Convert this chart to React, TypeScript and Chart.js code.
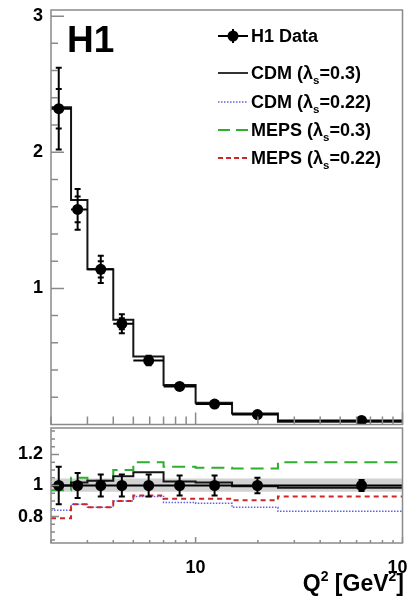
import { useEffect, useRef } from 'react';
import { Chart, registerables } from 'chart.js';
Chart.register(...registerables);

const FONT = '"Liberation Sans", Arial, Helvetica, sans-serif';

// ---- data ----
const binEdges = [2, 2.5, 3, 4, 5, 7, 10, 15, 25, 100];
const dataQ2 = [2.18, 2.69, 3.48, 4.4, 5.93, 8.37, 12.35, 19.9, 63.4];
const dataXsec = [2.32, 1.58, 1.14, 0.74, 0.47, 0.28, 0.15, 0.073, 0.03];
const statErr = [0.145, 0.095, 0.06, 0.04, 0.02, 0.015, 0.01, 0.006, 0.004];
const totErr = [0.3, 0.15, 0.1, 0.07, 0.035, 0.022, 0.013, 0.008, 0.005];
const cdm03 = [2.33, 1.65, 1.14, 0.77, 0.5, 0.29, 0.16, 0.08, 0.02];

const ratioData = [1, 1, 1, 1, 1, 1, 1, 1, 1];
const ratioErr = [0.12, 0.08, 0.07, 0.07, 0.07, 0.065, 0.065, 0.05, 0.035];
const ratioCdm03 = [1.0, 1.02, 1.03, 1.06, 1.085, 1.025, 1.02, 0.995, 0.985];
const ratioCdm022 = [0.84, 0.88, 0.86, 0.9, 0.93, 0.89, 0.885, 0.86, 0.835];
const ratioMeps03 = [0.97, 1.05, 1.03, 1.1, 1.15, 1.12, 1.115, 1.11, 1.15];
const ratioMeps022 = [0.79, 0.88, 0.86, 0.9, 0.935, 0.915, 0.915, 0.905, 0.93];
const bandRange = [2, 100];
const bandLow = [0.96, 0.96];
const bandHigh = [1.045, 1.045];

const topYTicks = [1, 2, 3];
const ratioYTicks = [0.8, 1, 1.2];
const xTickLabels = [10, 100];

// ---- helpers ----
const histPoints = (edges: number[], vals: number[]) => {
  const pts = vals.map((v, i) => ({ x: edges[i], y: v }));
  pts.push({ x: edges[edges.length - 1], y: vals[vals.length - 1] });
  return pts;
};

const xMinor: number[] = [];
for (let d = 1; d <= 10; d *= 10) for (let k = 2; k <= 9; k++) xMinor.push(k * d);

type Part = { t: string; sub?: boolean; sup?: boolean };
function drawRich(ctx: CanvasRenderingContext2D, parts: Part[], x: number, y: number, size: number, small: number, align: 'left' | 'right' = 'left') {
  const fontN = `bold ${size}px ${FONT}`;
  const fontS = `bold ${small}px ${FONT}`;
  let total = 0;
  for (const p of parts) {
    ctx.font = p.sub || p.sup ? fontS : fontN;
    total += ctx.measureText(p.t).width;
  }
  let cx = align === 'left' ? x : x - total;
  ctx.textAlign = 'left';
  ctx.textBaseline = 'alphabetic';
  for (const p of parts) {
    ctx.font = p.sub || p.sup ? fontS : fontN;
    const dy = p.sub ? size * 0.3 : p.sup ? -size * 0.42 : 0;
    ctx.fillText(p.t, cx, y + dy);
    cx += ctx.measureText(p.t).width;
  }
}

type FrameCfg = {
  yMajor: number[]; yMinor: number[]; yMajLen: number; yMinLen: number;
  xMajLen: number; xMinLen: number;
};
function frameTicks(cfg: FrameCfg) {
  return {
    id: 'frameTicks',
    afterDraw(chart: any) {
      const { ctx, chartArea: a } = chart;
      const xs = chart.scales.x, ys = chart.scales.y;
      ctx.save();
      ctx.strokeStyle = '#8a8a8a';
      ctx.lineWidth = 1.5;
      ctx.beginPath();
      for (const v of cfg.yMajor) { const y = ys.getPixelForValue(v); ctx.moveTo(a.left, y); ctx.lineTo(a.left + cfg.yMajLen, y); }
      for (const v of cfg.yMinor) { const y = ys.getPixelForValue(v); ctx.moveTo(a.left, y); ctx.lineTo(a.left + cfg.yMinLen, y); }
      for (const v of xTickLabels) { const x = xs.getPixelForValue(v); ctx.moveTo(x, a.bottom); ctx.lineTo(x, a.bottom - cfg.xMajLen); }
      for (const v of xMinor) { const x = xs.getPixelForValue(v); ctx.moveTo(x, a.bottom); ctx.lineTo(x, a.bottom - cfg.xMinLen); }
      ctx.stroke();
      ctx.strokeRect(a.left, a.top, a.right - a.left, a.bottom - a.top);
      ctx.restore();
    },
  };
}

function errorBars(ys: number[], stat: number[] | null, tot: number[]) {
  return {
    id: 'errorBars',
    afterDatasetsDraw(chart: any) {
      const { ctx } = chart;
      const sx = chart.scales.x, sy = chart.scales.y;
      ctx.save();
      ctx.beginPath();
      ctx.rect(chart.chartArea.left, chart.chartArea.top, chart.chartArea.right - chart.chartArea.left, chart.chartArea.bottom - chart.chartArea.top);
      ctx.clip();
      ctx.strokeStyle = '#000';
      ctx.lineWidth = 2;
      ctx.beginPath();
      dataQ2.forEach((q, i) => {
        const x = sx.getPixelForValue(q);
        const y = sy.getPixelForValue(ys[i]);
        const yt = sy.getPixelForValue(ys[i] + tot[i]);
        const yb = sy.getPixelForValue(ys[i] - tot[i]);
        ctx.moveTo(x, yt); ctx.lineTo(x, yb);
        ctx.moveTo(x - 3, yt); ctx.lineTo(x + 3, yt);
        ctx.moveTo(x - 3, yb); ctx.lineTo(x + 3, yb);
        if (stat) {
          const st = sy.getPixelForValue(ys[i] + stat[i]);
          const sb = sy.getPixelForValue(ys[i] - stat[i]);
          ctx.moveTo(x - 3, st); ctx.lineTo(x + 3, st);
          ctx.moveTo(x - 3, sb); ctx.lineTo(x + 3, sb);
        }
        ctx.moveTo(sx.getPixelForValue(binEdges[i]), y);
        ctx.lineTo(sx.getPixelForValue(binEdges[i + 1]), y);
      });
      ctx.stroke();
      ctx.restore();
    },
  };
}

const LEG = 18, LEGS = 11.5;
const legendPlugin = {
  id: 'h1legend',
  afterDraw(chart: any) {
    const { ctx } = chart;
    ctx.save();
    ctx.fillStyle = '#000';
    ctx.font = `bold 37px ${FONT}`;
    ctx.textAlign = 'left';
    ctx.textBaseline = 'alphabetic';
    ctx.fillText('H1', 67, 52);

    const x0 = 218, x1 = 248, tx = 251;
    const rows = [36, 73, 102, 130, 158];
    // H1 Data
    ctx.strokeStyle = '#000';
    ctx.lineWidth = 2;
    ctx.beginPath();
    ctx.moveTo(x0, rows[0]); ctx.lineTo(x1, rows[0]);
    ctx.moveTo(233, rows[0] - 7); ctx.lineTo(233, rows[0] + 7);
    ctx.stroke();
    ctx.beginPath(); ctx.arc(233, rows[0], 5.5, 0, Math.PI * 2); ctx.fill();
    // CDM 0.3
    ctx.lineWidth = 1.6;
    ctx.beginPath(); ctx.moveTo(x0, rows[1]); ctx.lineTo(x1, rows[1]); ctx.stroke();
    // CDM 0.22
    ctx.strokeStyle = '#6262e0'; ctx.setLineDash([1.5, 1.5]);
    ctx.beginPath(); ctx.moveTo(x0, rows[2]); ctx.lineTo(x1, rows[2]); ctx.stroke();
    // MEPS 0.3
    ctx.strokeStyle = '#2fae2f'; ctx.lineWidth = 2; ctx.setLineDash([12, 6]);
    ctx.beginPath(); ctx.moveTo(x0, rows[3]); ctx.lineTo(x1, rows[3]); ctx.stroke();
    // MEPS 0.22
    ctx.strokeStyle = '#cc2828'; ctx.setLineDash([5, 3]);
    ctx.beginPath(); ctx.moveTo(x0, rows[4]); ctx.lineTo(x1, rows[4]); ctx.stroke();
    ctx.setLineDash([]);

    ctx.fillStyle = '#000';
    drawRich(ctx, [{ t: 'H1 Data' }], tx, rows[0] + 6, LEG, LEGS);
    drawRich(ctx, [{ t: 'CDM (λ' }, { t: 's', sub: true }, { t: '=0.3)' }], tx, rows[1] + 6, LEG, LEGS);
    drawRich(ctx, [{ t: 'CDM (λ' }, { t: 's', sub: true }, { t: '=0.22)' }], tx, rows[2] + 6, LEG, LEGS);
    drawRich(ctx, [{ t: 'MEPS (λ' }, { t: 's', sub: true }, { t: '=0.3)' }], tx, rows[3] + 6, LEG, LEGS);
    drawRich(ctx, [{ t: 'MEPS (λ' }, { t: 's', sub: true }, { t: '=0.22)' }], tx, rows[4] + 6, LEG, LEGS);
    ctx.restore();
  },
};

const axisTitlePlugin = {
  id: 'axisTitle',
  afterDraw(chart: any) {
    const { ctx } = chart;
    ctx.save();
    ctx.fillStyle = '#000';
    // canvas is offset by 420 px on page; baseline at page y 591
    drawRich(ctx, [{ t: 'Q' }, { t: '2', sup: true }, { t: ' [GeV' }, { t: '2', sup: true }, { t: ']' }], 404, 171, 23, 14, 'right');
    ctx.restore();
  },
};

const tickFont = { family: FONT, size: 18, weight: 'bold' as const };

export default function App() {
  const topRef = useRef<HTMLCanvasElement>(null);
  const botRef = useRef<HTMLCanvasElement>(null);

  useEffect(() => {
    const topMinor: number[] = [];
    for (let k = 1; k <= 15; k++) if (k % 5 !== 0) topMinor.push(k * 0.2);
    const botMinor: number[] = [];
    for (let k = 13; k <= 27; k++) if (k % 4 !== 0) botMinor.push(k * 0.05);

    const zeroPadY = (s: any) => { s.width = 51; s.paddingTop = 0; s.paddingBottom = 0; s.paddingLeft = 0; s.paddingRight = 0; };

    const top = new Chart(topRef.current!, {
      type: 'scatter',
      data: {
        datasets: [
          {
            label: 'H1 Data',
            data: dataQ2.map((x, i) => ({ x, y: dataXsec[i] })),
            pointRadius: 5.5,
            pointBackgroundColor: '#000',
            pointBorderColor: '#000',
            pointBorderWidth: 0,
          } as any,
          {
            type: 'line',
            label: 'CDM (λs=0.3)',
            data: histPoints(binEdges, cdm03),
            stepped: 'before',
            borderColor: '#151515',
            borderWidth: 2,
            pointRadius: 0,
            fill: false,
          } as any,
        ],
      },
      options: {
        animation: false,
        responsive: false,
        events: [],
        layout: { padding: { left: 0, top: 10, right: 3, bottom: 2 } },
        plugins: { legend: { display: false }, tooltip: { enabled: false } },
        scales: {
          x: {
            type: 'logarithmic', min: 2, max: 100, display: false,
          },
          y: {
            type: 'linear', min: 0, max: 3.045,
            afterBuildTicks: (s: any) => { s.ticks = topYTicks.map((v) => ({ value: v })); },
            ticks: { font: tickFont, color: '#000', padding: 8, callback: (v: any) => String(v) },
            grid: { display: false, drawTicks: false },
            border: { display: false },
            afterFit: zeroPadY,
          },
        },
      } as any,
      plugins: [errorBars(dataXsec, statErr, totErr), frameTicks({ yMajor: topYTicks, yMinor: topMinor, yMajLen: 13, yMinLen: 7, xMajLen: 12, xMinLen: 8 }), legendPlugin],
    });

    const bot = new Chart(botRef.current!, {
      type: 'scatter',
      data: {
        datasets: [
          {
            label: 'H1 Data',
            data: dataQ2.map((x, i) => ({ x, y: ratioData[i] })),
            pointRadius: 5.5,
            pointBackgroundColor: '#000',
            pointBorderColor: '#000',
            pointBorderWidth: 0,
          } as any,
          {
            type: 'line', label: 'CDM (λs=0.3)', data: histPoints(binEdges, ratioCdm03), stepped: 'before',
            borderColor: '#151515', borderWidth: 2, pointRadius: 0, fill: false,
          } as any,
          {
            type: 'line', label: 'MEPS (λs=0.3)', data: histPoints(binEdges, ratioMeps03), stepped: 'before',
            borderColor: '#2fae2f', borderWidth: 2, borderDash: [13, 7], pointRadius: 0, fill: false,
          } as any,
          {
            type: 'line', label: 'MEPS (λs=0.22)', data: histPoints(binEdges, ratioMeps022), stepped: 'before',
            borderColor: '#cc2828', borderWidth: 2, borderDash: [5, 4], pointRadius: 0, fill: false,
          } as any,
          {
            type: 'line', label: 'CDM (λs=0.22)', data: histPoints(binEdges, ratioCdm022), stepped: 'before',
            borderColor: '#6262e0', borderWidth: 1.5, borderDash: [1.5, 1.5], pointRadius: 0, fill: false,
          } as any,
          {
            type: 'line', label: 'band high', data: bandRange.map((x, i) => ({ x, y: bandHigh[i] })),
            borderWidth: 0, pointRadius: 0, fill: '+1', backgroundColor: '#d2d2d2',
          } as any,
          {
            type: 'line', label: 'band low', data: bandRange.map((x, i) => ({ x, y: bandLow[i] })),
            borderWidth: 0, pointRadius: 0, fill: false,
          } as any,
        ],
      },
      options: {
        animation: false,
        responsive: false,
        events: [],
        layout: { padding: { left: 0, top: 8, right: 3, bottom: 0 } },
        plugins: { legend: { display: false }, tooltip: { enabled: false } },
        scales: {
          x: {
            type: 'logarithmic', min: 2, max: 100,
            afterBuildTicks: (s: any) => { s.ticks = xTickLabels.map((v) => ({ value: v })); },
            ticks: { font: tickFont, color: '#000', padding: 14, autoSkip: false, maxRotation: 0, callback: (v: any) => String(v) },
            grid: { display: false, drawTicks: false },
            border: { display: false },
            afterFit: (s: any) => { s.height = 63; s.paddingLeft = 0; s.paddingRight = 0; s.paddingTop = 0; s.paddingBottom = 0; },
          },
          y: {
            type: 'linear', min: 0.63, max: 1.37,
            afterBuildTicks: (s: any) => { s.ticks = ratioYTicks.map((v) => ({ value: v })); },
            ticks: { font: tickFont, color: '#000', padding: 8, callback: (v: any) => String(v) },
            grid: { display: false, drawTicks: false },
            border: { display: false },
            afterFit: zeroPadY,
          },
        },
      } as any,
      plugins: [errorBars(ratioData, null, ratioErr), frameTicks({ yMajor: ratioYTicks, yMinor: botMinor, yMajLen: 8, yMinLen: 4, xMajLen: 6, xMinLen: 3 }), axisTitlePlugin],
    });

    return () => { top.destroy(); bot.destroy(); };
  }, []);

  return (
    <div style={{ position: 'fixed', left: 0, top: 0, width: 408, height: 606, background: '#fff', overflow: 'hidden' }}>
      <canvas ref={topRef} width={408} height={430} style={{ position: 'absolute', left: 0, top: 0 }} />
      <canvas ref={botRef} width={408} height={186} style={{ position: 'absolute', left: 0, top: 420 }} />
    </div>
  );
}
